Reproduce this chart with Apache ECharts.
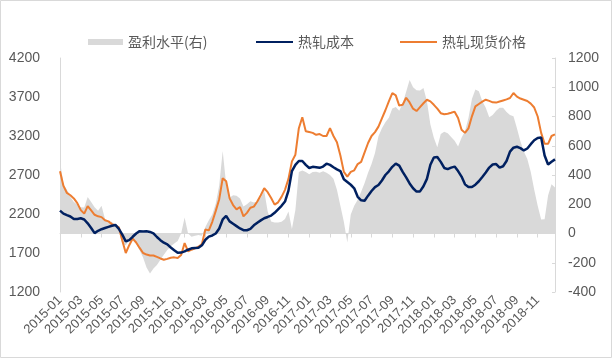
<!DOCTYPE html>
<html>
<head>
<meta charset="utf-8">
<script src="https://cdn.jsdelivr.net/npm/echarts@6/dist/echarts.min.js"></script>
<style>
html,body{margin:0;padding:0;background:#fff;}
#main{width:615px;height:363px;}
</style>
</head>
<body>
<div id="main"></div>
<script>
// Categories: dates at the 1st, 11th and 21st of each month, 2015-01 .. 2018-12
const years = [2015, 2016, 2017, 2018];
const days = ['01', '11', '21'];
const dates = [];
years.forEach(y => { for (let m = 1; m <= 12; m++) { days.forEach(d => dates.push(y + '-' + String(m).padStart(2, '0') + '-' + d)); } });

const seriesNames = ['盈利水平(右)', '热轧成本', '热轧现货价格'];

// Profit level (right axis)
const profit = [
  495,336,300,250,215,198,180,177,250,215,180,155,189,100,75,80,50,15,
  -70,-80,-48,-40,-70,-115,-164,-232,-273,-240,-215,-180,-145,-112,-88,-68,-52,0,
  109,0,-22,-15,-10,-15,45,90,130,205,330,564,336,245,262,258,240,185,
  200,220,212,218,245,291,150,82,75,75,80,100,150,30,160,420,430,420,
  405,420,422,416,425,415,400,375,300,190,80,-61,130,190,230,285,345,415,
  475,550,665,720,760,791,855,865,840,890,970,1050,1000,980,978,995,905,745,
  655,590,680,695,685,660,635,595,655,700,790,920,984,973,905,860,795,810,
  840,859,859,830,810,802,720,630,560,510,420,300,190,95,98,260,336,314
];

// Hot-rolled cost (left axis)
const cost = [
  2243,2205,2185,2168,2135,2135,2145,2130,2080,2020,1955,1985,2005,2020,2035,2050,2060,2010,
  1935,1850,1865,1908,1950,1980,1977,1978,1970,1952,1905,1865,1832,1810,1770,1735,1702,1705,
  1720,1742,1760,1764,1766,1798,1870,1910,1925,1950,2015,2130,2175,2105,2075,2045,2015,1992,
  1992,2010,2055,2088,2118,2146,2162,2180,2215,2260,2305,2360,2500,2750,2830,2880,2880,2830,
  2790,2805,2800,2792,2808,2845,2830,2800,2772,2750,2645,2610,2575,2530,2420,2375,2370,2435,
  2495,2545,2572,2630,2700,2747,2805,2845,2820,2740,2670,2592,2530,2488,2490,2555,2650,2832,
  2925,2930,2868,2790,2775,2795,2808,2750,2680,2580,2545,2545,2576,2620,2675,2732,2795,2835,
  2840,2795,2812,2880,3000,3050,3062,3045,3015,3040,3095,3145,3175,3180,2950,2835,2870,2900
];

// Hot-rolled spot price (left axis)
const spot = [
  2747,2560,2470,2440,2400,2340,2250,2205,2300,2245,2190,2170,2160,2120,2105,2070,2055,2030,
  1860,1700,1800,1885,1835,1765,1700,1680,1668,1668,1650,1630,1614,1625,1640,1644,1636,1675,
  1828,1720,1742,1760,1780,1815,2000,1990,2100,2240,2390,2660,2619,2400,2315,2260,2290,2170,
  2215,2280,2295,2360,2440,2530,2480,2405,2320,2350,2420,2510,2650,2875,2960,3300,3440,3260,
  3250,3240,3215,3225,3200,3200,3300,3200,3120,2950,2740,2680,2740,2760,2840,2868,2990,3110,
  3200,3250,3320,3425,3530,3644,3751,3720,3590,3600,3690,3630,3550,3520,3570,3620,3665,3644,
  3600,3550,3492,3478,3485,3498,3512,3430,3280,3240,3298,3452,3580,3610,3640,3665,3650,3632,
  3628,3642,3656,3670,3687,3751,3705,3680,3664,3648,3615,3565,3450,3240,3100,3100,3200,3220
];

const leftTicks = { min: 1200, max: 4200, interval: 500 };
const rightTicks = { min: -400, max: 1200, interval: 200 };

const txt = '#595959';
const axisGray = '#d9d9d9';
const numFont = 'Liberation Sans, Arial, sans-serif';
const cjkFont = 'Noto Sans CJK SC, sans-serif';
const showEvery = (i) => i % 6 === 0;
const legendText = { color: txt, fontSize: 14, fontFamily: cjkFont };

const chart = echarts.init(document.getElementById('main'), null, { renderer: 'canvas' });
chart.setOption({
  animation: false,
  backgroundColor: '#fff',
  graphic: [{
    type: 'rect', shape: { x: 0.5, y: 0.5, width: 611, height: 357 },
    style: { fill: 'none', stroke: '#d9d9d9', lineWidth: 1 }, silent: true, z: -10
  }],
  legend: [
    {
      left: 83, top: 30, icon: 'rect',
      itemWidth: 35, itemHeight: 6, itemGap: 44,
      textStyle: legendText,
      data: [seriesNames[0]]
    },
    {
      left: 251, top: 30, icon: 'rect',
      itemWidth: 37, itemHeight: 2, itemGap: 46,
      textStyle: legendText,
      data: [seriesNames[1], seriesNames[2]]
    }
  ],
  grid: { left: 60, right: 60, top: 58, bottom: 71, containLabel: false },
  xAxis: {
    type: 'category', data: dates, boundaryGap: false,
    axisLine: { lineStyle: { color: axisGray, width: 1 } },
    axisTick: { show: true, interval: showEvery, length: 4, lineStyle: { color: axisGray } },
    axisLabel: {
      interval: showEvery, rotate: 45, margin: 6,
      color: txt, fontSize: 13, fontFamily: numFont,
      formatter: (v) => v.slice(0, 7)
    },
    splitLine: { show: false }
  },
  yAxis: [
    {
      type: 'value', min: leftTicks.min, max: leftTicks.max, interval: leftTicks.interval,
      axisLine: { show: true, lineStyle: { color: axisGray } },
      axisTick: { show: false },
      axisLabel: { color: txt, fontSize: 14, fontFamily: numFont, margin: 20, formatter: (v) => String(v) },
      splitLine: { show: false }
    },
    {
      type: 'value', min: rightTicks.min, max: rightTicks.max, interval: rightTicks.interval,
      position: 'right',
      axisLine: { show: true, lineStyle: { color: axisGray } },
      axisTick: { show: true, inside: true, length: 3, lineStyle: { color: axisGray } },
      axisLabel: { color: txt, fontSize: 14, fontFamily: numFont, margin: 13, formatter: (v) => String(v) },
      splitLine: { show: false }
    }
  ],
  series: [
    {
      name: seriesNames[0], type: 'line', yAxisIndex: 1, data: profit,
      symbol: 'none', color: '#d9d9d9',
      lineStyle: { width: 0 },
      areaStyle: { color: '#d9d9d9', opacity: 1 },
      z: 1
    },
    {
      name: seriesNames[1], type: 'line', yAxisIndex: 0, data: cost,
      symbol: 'none', color: '#002060',
      lineStyle: { width: 2.5, color: '#002060' },
      z: 3
    },
    {
      name: seriesNames[2], type: 'line', yAxisIndex: 0, data: spot,
      symbol: 'none', color: '#ED7D31',
      lineStyle: { width: 2, color: '#ED7D31' },
      z: 2
    }
  ]
});
</script>
</body>
</html>
